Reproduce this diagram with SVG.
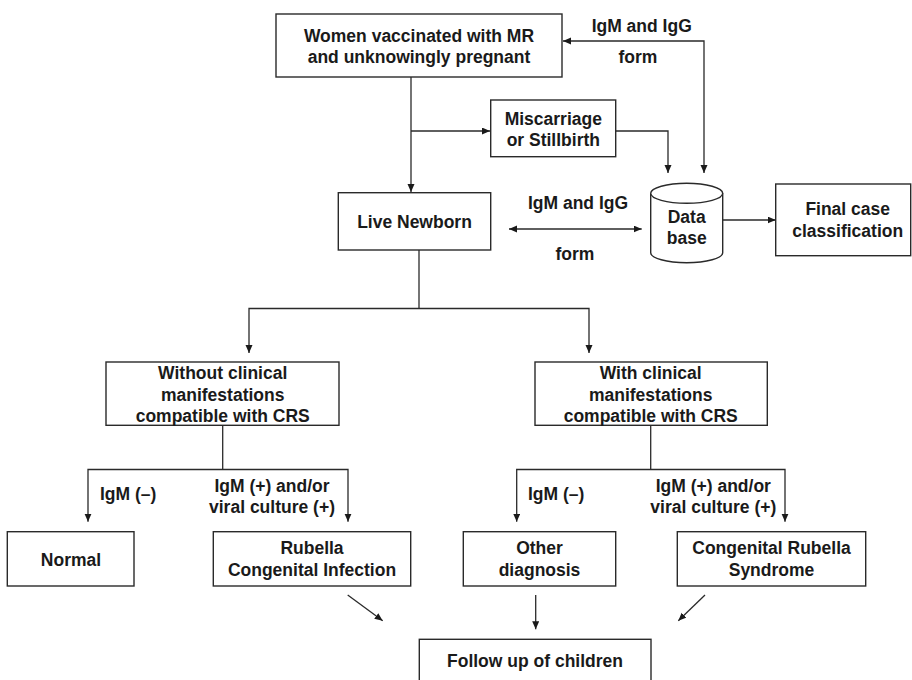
<svg xmlns="http://www.w3.org/2000/svg" width="912" height="680" viewBox="0 0 912 680">
<defs>
<style>
.box{fill:#fff;stroke:#2a2a2a;stroke-width:1.4}
.t{font-family:"Liberation Sans",Arial,sans-serif;font-weight:bold;font-size:17.5px;fill:#1a1a1a;text-anchor:middle}
.s{text-anchor:start}
.c{fill:none;stroke:#2a2a2a;stroke-width:1.3}
.a{marker-end:url(#ah)}
.aa{marker-start:url(#ah);marker-end:url(#ah)}
</style>
<marker id="ah" markerUnits="userSpaceOnUse" markerWidth="9" markerHeight="8" refX="8" refY="3.5" orient="auto-start-reverse">
<path d="M0,0 L8,3.5 L0,7 z" fill="#1a1a1a"/>
</marker>
</defs>
<rect width="912" height="680" fill="#fff"/>
<g id="connectors">
<path class="c a" d="M411,77 V192"/>
<path class="c a" d="M411,131 H490"/>
<path class="c aa" d="M563,41 H704 V173"/>
<path class="c a" d="M616,131 H668 V173"/>
<path class="c aa" d="M509,229 H641.7"/>
<path class="c a" d="M722.7,220 H775.7"/>
<path class="c" d="M419,250 V308.5"/>
<path class="c aa" d="M249,353 V308.5 H589 V353"/>
<path class="c" d="M222.7,425.3 V469.5"/>
<path class="c aa" d="M88,521.7 V469.5 H348 V521.7"/>
<path class="c" d="M650.7,425.3 V469.5"/>
<path class="c aa" d="M516.7,521.7 V469.5 H785 V521.7"/>
<path class="c a" d="M347.7,595 L382.7,620.7"/>
<path class="c a" d="M535.7,595 V629.3"/>
<path class="c a" d="M705,595 L678.3,620.7"/>
<text class="t" x="641.7" y="32">IgM and IgG</text>
<text class="t" x="638" y="63">form</text>
<text class="t" x="578" y="209">IgM and IgG</text>
<text class="t" x="575" y="260">form</text>
<text class="t s" x="100" y="500">IgM (–)</text>
<text class="t" x="272" y="491.7">IgM (+) and/or</text>
<text class="t" x="272" y="513">viral culture (+)</text>
<text class="t s" x="528" y="500">IgM (–)</text>
<text class="t" x="713.3" y="491.7">IgM (+) and/or</text>
<text class="t" x="713.3" y="513">viral culture (+)</text>
</g>
<g id="women">
<rect class="box" x="276" y="14" width="286" height="63"/>
<text class="t" x="419" y="41.7">Women vaccinated with MR</text>
<text class="t" x="419" y="63.3">and unknowingly pregnant</text>
</g>
<g id="miscarriage">
<rect class="box" x="490.7" y="100" width="125" height="56.7"/>
<text class="t" x="553.3" y="125">Miscarriage</text>
<text class="t" x="553.3" y="145.7">or Stillbirth</text>
</g>
<g id="newborn">
<rect class="box" x="338.3" y="192.7" width="152.4" height="57.3"/>
<text class="t" x="414.5" y="228">Live Newborn</text>
</g>
<g id="database">
<path class="box" d="M650.7,193.3 V252.7 A36,10 0 0 0 722.7,252.7 V193.3"/>
<ellipse class="box" cx="686.7" cy="193.3" rx="36" ry="10"/>
<text class="t" x="686.7" y="223.3">Data</text>
<text class="t" x="686.7" y="244">base</text>
</g>
<g id="final">
<rect class="box" x="775.7" y="184" width="135" height="71.7"/>
<text class="t" x="847.7" y="215">Final case</text>
<text class="t" x="847.7" y="237.3">classification</text>
</g>
<g id="without">
<rect class="box" x="106" y="362" width="233" height="63.3"/>
<text class="t" x="222.7" y="379">Without clinical</text>
<text class="t" x="222.7" y="400.7">manifestations</text>
<text class="t" x="222.7" y="421.7">compatible with CRS</text>
</g>
<g id="with">
<rect class="box" x="535" y="362" width="232.3" height="63.3"/>
<text class="t" x="650.7" y="379">With clinical</text>
<text class="t" x="650.7" y="400.7">manifestations</text>
<text class="t" x="650.7" y="421.7">compatible with CRS</text>
</g>
<g id="normal">
<rect class="box" x="7.3" y="531.7" width="126.7" height="54.3"/>
<text class="t" x="71" y="565.5">Normal</text>
</g>
<g id="rubella">
<rect class="box" x="213.3" y="531.7" width="197.4" height="54.3"/>
<text class="t" x="312" y="554.3">Rubella</text>
<text class="t" x="312" y="575.7">Congenital Infection</text>
</g>
<g id="other">
<rect class="box" x="463.3" y="531.7" width="152.4" height="54.3"/>
<text class="t" x="539.5" y="554.3">Other</text>
<text class="t" x="539.5" y="575.7">diagnosis</text>
</g>
<g id="crs">
<rect class="box" x="677.3" y="531.7" width="188.4" height="54.3"/>
<text class="t" x="771.5" y="554.3">Congenital Rubella</text>
<text class="t" x="771.5" y="575.7">Syndrome</text>
</g>
<g id="followup">
<rect class="box" x="419.3" y="639.3" width="231.7" height="50"/>
<text class="t" x="535" y="666.7">Follow up of children</text>
</g>
</svg>
